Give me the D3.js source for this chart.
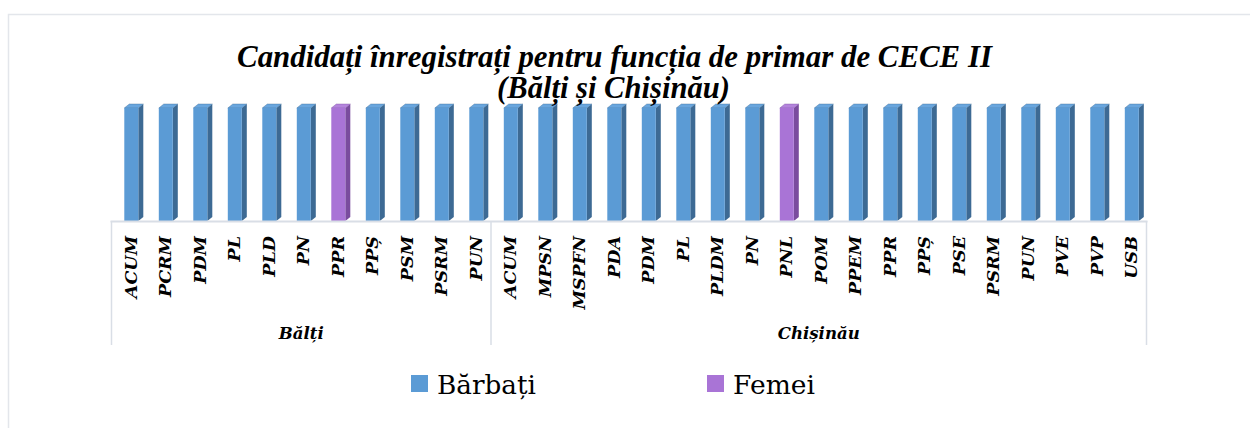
<!DOCTYPE html>
<html><head><meta charset="utf-8">
<script src="https://cdn.jsdelivr.net/npm/d3@7"></script>
<style>body{margin:0;background:#fff}svg{display:block}</style>
</head><body>
<svg id="c" width="1250" height="428"></svg>
<script>
// ---- data ----
const titleLines = ["Candidați înregistrați pentru funcția de primar de CECE II", "(Bălți și Chișinău)"];
const groups = ["Bălți", "Chișinău"];
const baltiParties = ["ACUM","PCRM","PDM","PL","PLD","PN","PPR","PPȘ","PSM","PSRM","PUN"];
const chisinauParties = ["ACUM","MPSN","MSPFN","PDA","PDM","PL","PLDM","PN","PNL","POM","PPEM","PPR","PPȘ","PSE","PSRM","PUN","PVE","PVP","USB"];
const baltiBarbati = [1,1,1,1,1,1,0,1,1,1,1];
const baltiFemei   = [0,0,0,0,0,0,1,0,0,0,0];
const chisinauBarbati = [1,1,1,1,1,1,1,1,0,1,1,1,1,1,1,1,1,1,1];
const chisinauFemei   = [0,0,0,0,0,0,0,0,1,0,0,0,0,0,0,0,0,0,0];
const seriesNames = ["Bărbați", "Femei"];

// ---- build table ----
const rows = [];
baltiParties.forEach((p,i)=>rows.push({key:"0-"+i, group:groups[0], party:p, v:[baltiBarbati[i], baltiFemei[i]]}));
chisinauParties.forEach((p,i)=>rows.push({key:"1-"+i, group:groups[1], party:p, v:[chisinauBarbati[i], chisinauFemei[i]]}));

const colors = {
  front: ["#5b9bd5", "#a974d6"],
  side:  ["#3d6a94", "#7a4c9e"],
  top:   ["#69a6de", "#b484dc"]
};

const svg = d3.select("#c");
const serif = "'DejaVu Serif', serif";
const titleSerif = "'Liberation Serif', serif";

// outer chart border (left/top visible)
svg.append("rect").attr("x",8.5).attr("y",14.5).attr("width",1300).attr("height",600)
  .attr("fill","none").attr("stroke","#e3e6eb").attr("stroke-width",1.5);

const plotL = 111.5, plotR = 1146.5, axisY = 221, topY = 108;
const x = d3.scaleBand().domain(rows.map(r=>r.key)).range([plotL, plotR]).paddingInner(0).paddingOuter(0);
const y = d3.scaleLinear().domain([0,1]).range([axisY, topY]);

const dx = 5, dy = 4;
const bw = x.bandwidth();
const frontOff = 12.8, frontW = 14;

// bars
const stack = d3.stack().keys([0,1]).value((d,k)=>d.v[k])(rows);
const gBars = svg.append("g");
stack.forEach((layer, si)=>{
  layer.forEach((seg, i)=>{
    if (seg[1] - seg[0] <= 0) return;
    const r = rows[i];
    const x0 = x(r.key) + frontOff, x1 = x0 + frontW;
    const yb = y(seg[0]), yt = y(seg[1]);
    gBars.append("path")
      .attr("d", `M${x1},${yt}L${x1+dx},${yt-dy}L${x1+dx},${yb-dy}L${x1},${yb}Z`)
      .attr("fill", colors.side[si]);
    gBars.append("path")
      .attr("d", `M${x0},${yt}L${x0+dx},${yt-dy}L${x1+dx},${yt-dy}L${x1},${yt}Z`)
      .attr("fill", colors.top[si]).attr("stroke", colors.side[si]).attr("stroke-width",0.4);
    gBars.append("rect").attr("x",x0).attr("y",yt).attr("width",frontW).attr("height",yb-yt)
      .attr("fill", colors.front[si]);
  });
});

// axis line and group separators
const axisColor = "#d9dee6";
svg.append("line").attr("x1",plotL-1).attr("x2",plotR+1).attr("y1",axisY+0.5).attr("y2",axisY+0.5)
  .attr("stroke",axisColor).attr("stroke-width",2);
const sepIdx = [0, baltiParties.length, rows.length];
sepIdx.forEach(i=>{
  const sx = i < rows.length ? x(rows[i].key) : plotR;
  svg.append("line").attr("x1",sx).attr("x2",sx).attr("y1",axisY).attr("y2",345)
    .attr("stroke",axisColor).attr("stroke-width",1.5);
});

function fitText(sel, target){
  const fs = parseFloat(sel.attr("font-size"));
  const w = sel.node().getComputedTextLength();
  sel.attr("font-size", (fs*target/w).toFixed(2));
}

// category labels
svg.append("g").selectAll("text").data(rows).join("text")
  .attr("transform", d=>`translate(${x(d.key)+bw/2+2},236) rotate(-90)`)
  .attr("text-anchor","end").attr("dominant-baseline","central")
  .attr("font-family", serif).attr("font-weight","bold").attr("font-style","italic")
  .attr("font-size",17.5).attr("fill","#000")
  .text(d=>d.party);

// group labels
groups.forEach((g,gi)=>{
  const a = gi===0 ? plotL : x(rows[baltiParties.length].key);
  const b = gi===0 ? x(rows[baltiParties.length].key) : plotR;
  const t = svg.append("text").attr("x",(a+b)/2).attr("y",339).attr("text-anchor","middle")
    .attr("font-family", serif).attr("font-weight","bold").attr("font-style","italic")
    .attr("font-size",17).text(g);
  fitText(t, gi===0 ? 45 : 82);
});

// title
const t1 = svg.append("text").attr("x",614.5).attr("y",67).attr("text-anchor","middle")
  .attr("font-family", titleSerif).attr("font-weight","bold").attr("font-style","italic")
  .attr("font-size",26).text(titleLines[0]);
fitText(t1, 755);
const t2 = svg.append("text").attr("x",613.5).attr("y",98).attr("text-anchor","middle")
  .attr("font-family", titleSerif).attr("font-weight","bold").attr("font-style","italic")
  .attr("font-size",26).text(titleLines[1]);
fitText(t2, 233);

// legend
const legendX = [411, 707];
seriesNames.forEach((n,i)=>{
  svg.append("rect").attr("x",legendX[i]).attr("y",375).attr("width",17).attr("height",17)
    .attr("fill", colors.front[i]);
  const t = svg.append("text").attr("x",legendX[i]+26).attr("y",394)
    .attr("font-family", serif).attr("font-size",26).attr("fill","#000").text(n);
  fitText(t, i===0 ? 99 : 82);
});
</script>
</body></html>
